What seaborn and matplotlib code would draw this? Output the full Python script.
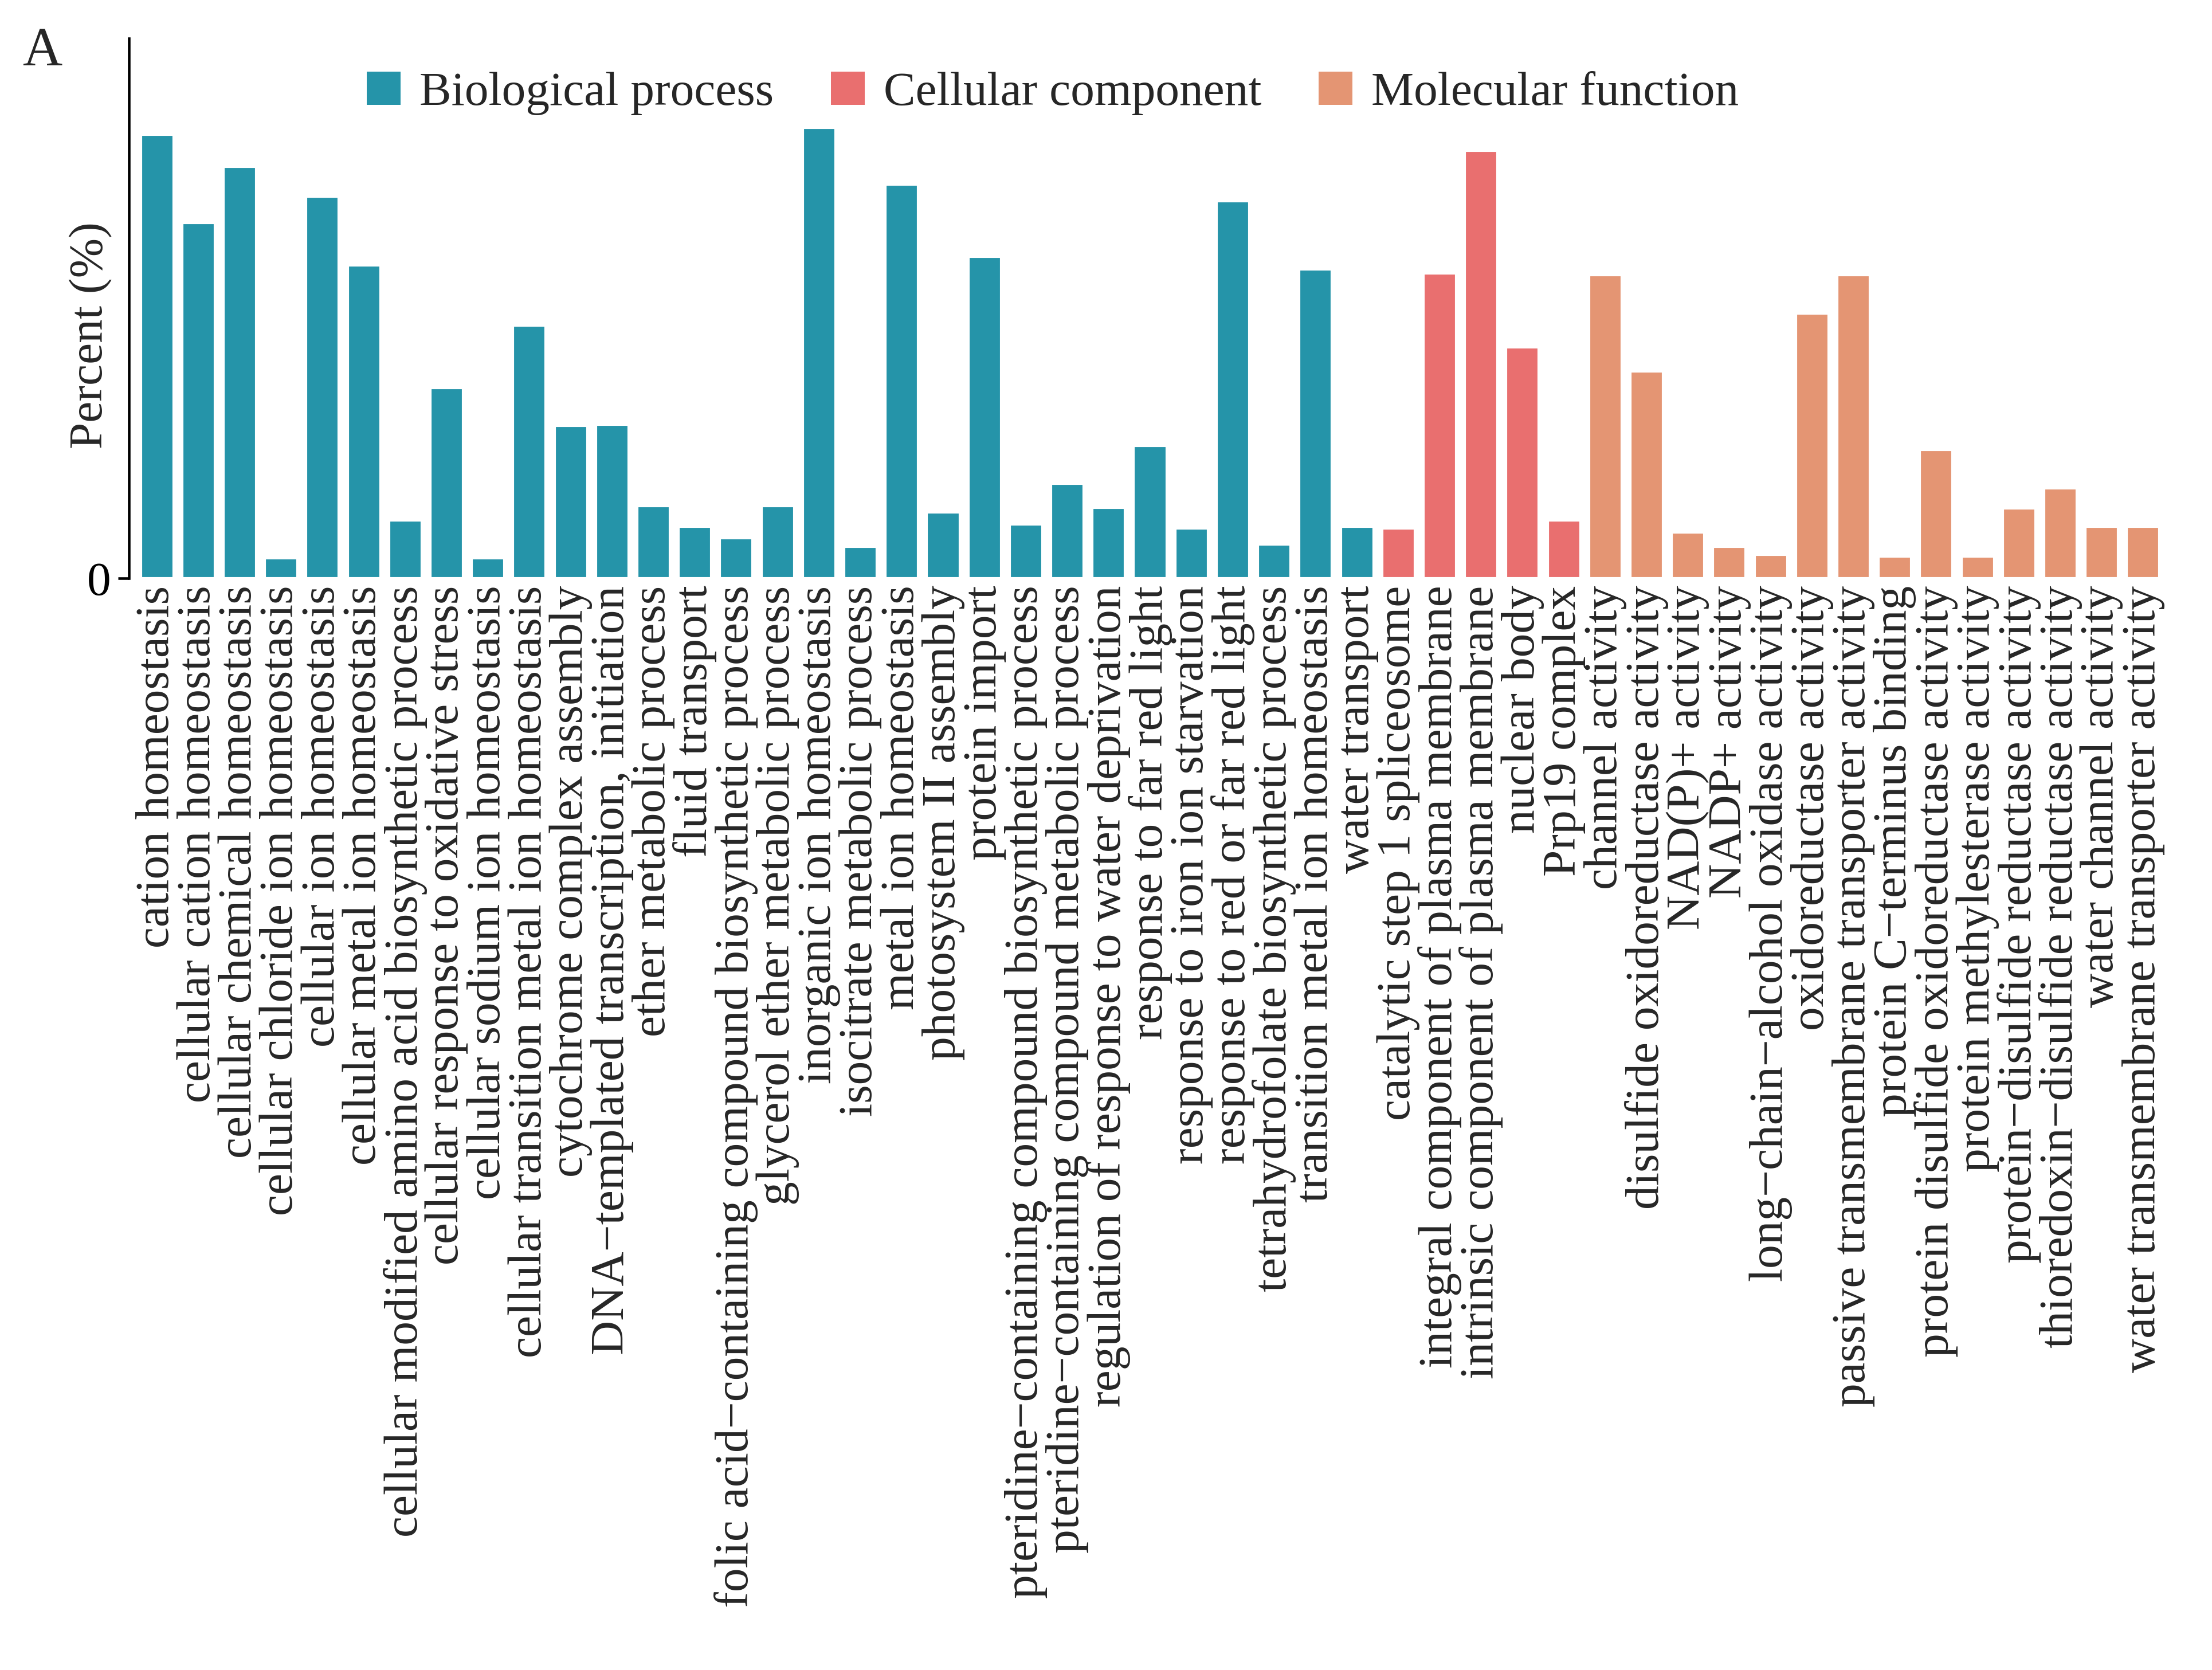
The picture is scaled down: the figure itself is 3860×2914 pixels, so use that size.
import matplotlib
matplotlib.use("Agg")
import pandas as pd
import matplotlib.pyplot as plt
import seaborn as sns
from matplotlib.patches import Patch

# GO terms and percent values
terms_bp = [
    "cation homeostasis", "cellular cation homeostasis", "cellular chemical homeostasis",
    "cellular chloride ion homeostasis", "cellular ion homeostasis",
    "cellular metal ion homeostasis", "cellular modified amino acid biosynthetic process",
    "cellular response to oxidative stress", "cellular sodium ion homeostasis",
    "cellular transition metal ion homeostasis", "cytochrome complex assembly",
    "DNA−templated transcription, initiation", "ether metabolic process", "fluid transport",
    "folic acid−containing compound biosynthetic process", "glycerol ether metabolic process",
    "inorganic ion homeostasis", "isocitrate metabolic process", "metal ion homeostasis",
    "photosystem II assembly", "protein import",
    "pteridine−containing compound biosynthetic process",
    "pteridine−containing compound metabolic process",
    "regulation of response to water deprivation", "response to far red light",
    "response to iron ion starvation", "response to red or far red light",
    "tetrahydrofolate biosynthetic process", "transition metal ion homeostasis",
    "water transport",
]
values_bp = [14.25, 11.42, 13.22, 0.64, 12.26, 10.05, 1.86, 6.12, 0.64, 8.12,
             4.89, 4.94, 2.32, 1.66, 1.29, 2.32, 14.46, 1.02, 12.64, 2.12,
             10.32, 1.73, 3.03, 2.26, 4.25, 1.61, 12.12, 1.09, 9.93, 1.66]

terms_cc = [
    "catalytic step 1 spliceosome", "integral component of plasma membrane",
    "intrinsic component of plasma membrane", "nuclear body", "Prp19 complex",
]
values_cc = [1.61, 9.80, 13.74, 7.42, 1.86]

terms_mf = [
    "channel activity", "disulfide oxidoreductase activity", "NAD(P)+ activity",
    "NADP+ activity", "long−chain−alcohol oxidase activity", "oxidoreductase activity",
    "passive transmembrane transporter activity", "protein C−terminus binding",
    "protein disulfide oxidoreductase activity", "protein methylesterase activity",
    "protein−disulfide reductase activity", "thioredoxin−disulfide reductase activity",
    "water channel activity", "water transmembrane transporter activity",
]
values_mf = [9.73, 6.64, 1.47, 1.02, 0.76, 8.50, 9.73, 0.70, 4.12, 0.70,
             2.25, 2.90, 1.66, 1.66]

categories = ["Biological process", "Cellular component", "Molecular function"]
colors = ["#2594A9", "#E96F6F", "#E49573"]

df = pd.DataFrame({
    "term": terms_bp + terms_cc + terms_mf,
    "percent": values_bp + values_cc + values_mf,
    "category": [categories[0]] * len(terms_bp)
                + [categories[1]] * len(terms_cc)
                + [categories[2]] * len(terms_mf),
})

sns.set_style("ticks")
plt.rcParams["font.family"] = ["Liberation Serif", "DejaVu Serif"]

fig = plt.figure(figsize=(3860 / 300, 2914 / 300), dpi=300)
ax = fig.add_axes([0.0583, 0.6537, 0.9233, 0.3233])

sns.barplot(data=df, x="term", y="percent", hue="category",
            palette=dict(zip(categories, colors)), dodge=False,
            width=0.79, saturation=1, legend=False, ax=ax)

ax.set_xlim(-0.68, len(df) - 0.32)
ax.set_ylim(0, 17.34)
ax.set_yticks([0])
ax.set_yticklabels(["0"], fontsize=20)
ax.set_xlabel("")
ax.set_ylabel("Percent (%)", fontsize=20)
ax.yaxis.set_label_coords(-0.008, 0.45)

ax.tick_params(axis="x", length=0, pad=3, labelsize=20, labelrotation=90)
ax.tick_params(axis="y", length=4.5, width=1.1, pad=3, colors="black")
for lab in ax.get_xticklabels():
    lab.set_va("top")
    lab.set_ha("center")

sns.despine(ax=ax, top=True, right=True, bottom=True)
ax.spines["left"].set_linewidth(1.1)
ax.spines["left"].set_color("black")

handles = [Patch(facecolor=c, edgecolor="none", label=l) for c, l in zip(colors, categories)]
fig.legend(handles=handles, loc="center", bbox_to_anchor=(0.476, 0.944), ncol=3,
           frameon=False, fontsize=20, handlelength=0.7, handleheight=0.7,
           handletextpad=0.4, columnspacing=1.2)

fig.text(0.019, 0.969, "A", fontsize=23, ha="center", va="center")

fig.savefig("out.png", dpi=300)
